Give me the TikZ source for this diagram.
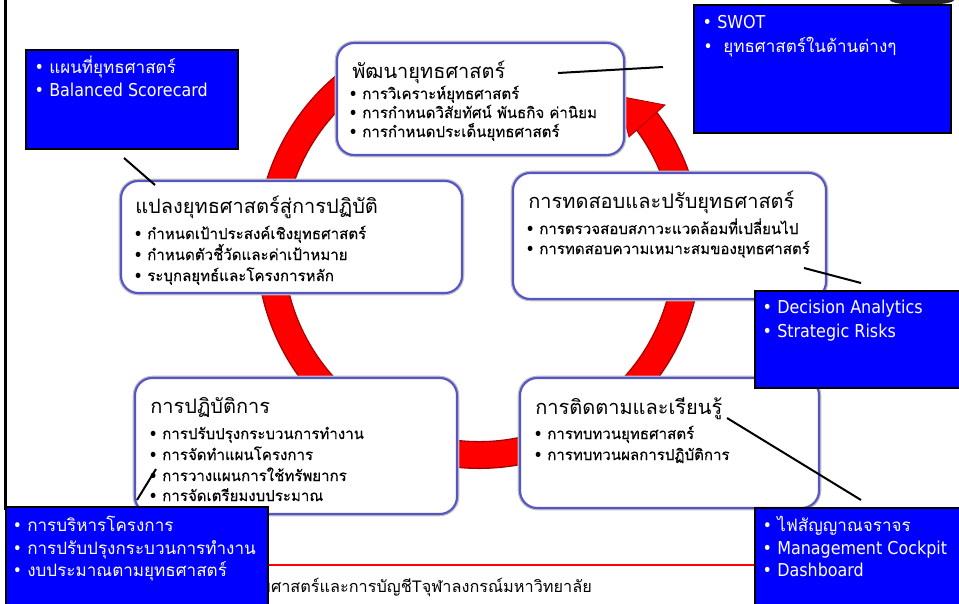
\documentclass[tikz,border=0pt]{standalone}
\usepackage{fontspec}
\setmainfont{DejaVu Sans Condensed}
\newfontfamily\thai[Script=Thai]{Loma}
\newfontfamily\thaib[Script=Thai,FakeBold=0.3]{Loma}
\newfontfamily\latf{DejaVu Sans Condensed}
\usetikzlibrary{fit}
\definecolor{boxblue}{RGB}{0,0,255}
\definecolor{rimblue}{RGB}{85,85,200}
\definecolor{ringred}{RGB}{255,0,0}
\definecolor{ringdark}{RGB}{165,0,0}
\newcommand{\bk}{\llap{{\latf\bfseries •}\hspace{3.5pt}}}
\newcommand{\bw}{\llap{{\latf •}\hspace{4pt}}}
\newcommand{\bww}{\llap{{\latf •}\hspace{8pt}}}
\tikzset{
  rbox/.style={draw=rimblue, line width=1.6pt, fill=white, rounded corners=13pt, inner sep=0pt,
               preaction={draw=black!25, line width=3.4pt}},
  bbox/.style={draw=black, line width=2pt, fill=boxblue, inner sep=0pt},
  tline/.style={anchor=base west, inner sep=0pt, font=\thaib\fontsize{11.3}{13}\selectfont},
  ttitle/.style={anchor=base west, inner sep=0pt, font=\thai\fontsize{15}{18}\selectfont},
  bthai/.style={anchor=base west, inner sep=0pt, text=white, font=\thai\fontsize{12.8}{14}\selectfont},
  blat/.style={anchor=base west, inner sep=0pt, text=white, font=\latf\fontsize{13.3}{15}\selectfont},
  conn/.style={draw=black, line width=1.5pt},
}
\begin{document}
\begin{tikzpicture}[x=0.75pt,y=-0.75pt]
\useasboundingbox (0,0) rectangle (959,603);
\clip (0,0) rectangle (959,603);
\fill[white] (0,0) rectangle (959,603);

% left border line
\draw[line width=2.4pt] (5.5,-2) -- (5.5,510);

% top-right dark blob
\fill[black!85] (922,0) ellipse [x radius=32, y radius=5];

% red cycle ring
\draw[ringdark, line width=21pt] (479,246) ++(-37:209) arc[start angle=-37, end angle=240, radius=209];
\draw[ringred, line width=19pt] (479,246) ++(-37.3:209) arc[start angle=-37.3, end angle=240, radius=209];
\filldraw[fill=ringred, draw=ringdark, line width=0.6pt] (629,137) -- (665,105) -- (618,96) -- cycle;

% footer line and caption
\draw[ringred, line width=1.6pt] (260,565) -- (760,565);
\node[anchor=base east, inner sep=0pt, font=\thai\fontsize{12.2}{14}\selectfont] (cap) at (592,592)
  {คณะพาณิชยศาสตร์และการบัญชีTจุฬาลงกรณ์มหาวิทยาลัย};

% white rounded boxes
\node[rbox, fit={(337,43) (624,155)}] (A) {};
\node[rbox, fit={(121,181) (462,293)}] (B) {};
\node[rbox, fit={(513,173) (826,299)}] (C) {};
\node[rbox, fit={(135,378) (457,514)}] (D) {};
\node[rbox, fit={(520,378) (819,508)}] (E) {};

% box A
\node[ttitle] (A0) at (352,78) {พัฒนายุทธศาสตร์};
\node[tline] (A1) at (362,99) {\bk การวิเคราะห์ยุทธศาสตร์};
\node[tline] (A2) at (362,118) {\bk การกำหนดวิสัยทัศน์ พันธกิจ ค่านิยม};
\node[tline] (A3) at (362,137) {\bk การกำหนดประเด็นยุทธศาสตร์};

% box B
\node[ttitle] (B0) at (135,213) {แปลงยุทธศาสตร์สู่การปฏิบัติ};
\node[tline] (B1) at (147,239) {\bk กำหนดเป้าประสงค์เชิงยุทธศาสตร์};
\node[tline] (B2) at (147,260) {\bk กำหนดตัวชี้วัดและค่าเป้าหมาย};
\node[tline] (B3) at (147,281) {\bk ระบุกลยุทธ์และโครงการหลัก};

% box C
\node[ttitle] (C0) at (528,208) {การทดสอบและปรับยุทธศาสตร์};
\node[tline] (C1) at (539,234) {\bk การตรวจสอบสภาวะแวดล้อมที่เปลี่ยนไป};
\node[tline] (C2) at (539,254) {\bk การทดสอบความเหมาะสมของยุทธศาสตร์};

% box D
\node[ttitle] (D0) at (150,413) {การปฏิบัติการ};
\node[tline] (D1) at (162,439) {\bk การปรับปรุงกระบวนการทำงาน};
\node[tline] (D2) at (162,460) {\bk การจัดทำแผนโครงการ};
\node[tline] (D3) at (162,481) {\bk การวางแผนการใช้ทรัพยากร};
\node[tline] (D4) at (162,501) {\bk การจัดเตรียมงบประมาณ};

% box E
\node[ttitle] (E0) at (535,414) {การติดตามและเรียนรู้};
\node[tline] (E1) at (547,439) {\bk การทบทวนยุทธศาสตร์};
\node[tline] (E2) at (547,460) {\bk การทบทวนผลการปฏิบัติการ};

% connectors
\coordinate (k1a) at (124,158); \coordinate (k1b) at (155,185);
\coordinate (k2a) at (558,73);  \coordinate (k2b) at (663,67);
\coordinate (k3a) at (804,268); \coordinate (k3b) at (861,283);
\coordinate (k4a) at (156,469); \coordinate (k4b) at (137,500);
\coordinate (k5a) at (727,418); \coordinate (k5b) at (861,500);
\draw[conn] (k1a) -- (k1b);
\draw[conn] (k2a) -- (k2b);
\draw[conn] (k3a) -- (k3b);
\draw[conn] (k4a) -- (k4b);
\draw[conn] (k5a) -- (k5b);

% blue boxes
\node[bbox, fit={(26,50) (238,149)}] (P1) {};
\node[blat] (P1a) at (49,73) {\bw{\thai\fontsize{12.8}{14}\selectfont แผนที่ยุทธศาสตร์}};
\node[blat] (P1b) at (49,96) {\bw Balanced Scorecard};

\node[bbox, fit={(694,5) (951,133)}] (P2) {};
\node[blat] (P2a) at (717,28) {\bw SWOT};
\node[bthai] (P2b) at (723,52) {\bww ยุทธศาสตร์ในด้านต่างๆ};

\node[bbox, fit={(755,291) (975,388)}] (P3) {};
\node[blat] (P3a) at (777,313) {\bw Decision Analytics};
\node[blat] (P3b) at (777,337) {\bw Strategic Risks};

\node[bbox, fit={(6,507) (268,615)}] (P4) {};
\node[bthai] (P4a) at (27,531) {\bw การบริหารโครงการ};
\node[bthai] (P4b) at (27,554) {\bw การปรับปรุงกระบวนการทำงาน};
\node[bthai] (P4c) at (27,576) {\bw งบประมาณตามยุทธศาสตร์};

\node[bbox, fit={(755,508) (975,615)}] (P5) {};
\node[bthai] (P5a) at (777,531) {\bw ไฟสัญญาณจราจร};
\node[blat] (P5b) at (777,554) {\bw Management Cockpit};
\node[blat] (P5c) at (777,576) {\bw Dashboard};
\end{tikzpicture}
\end{document}
